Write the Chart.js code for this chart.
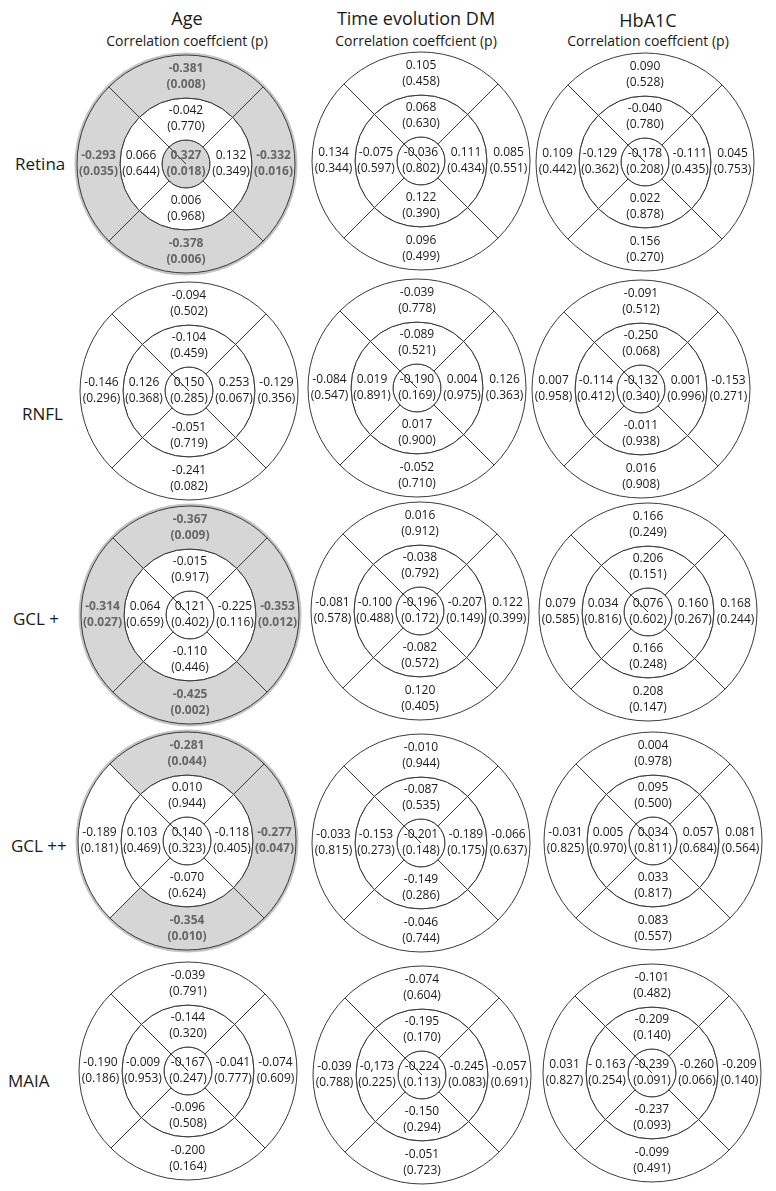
<!DOCTYPE html>
<html>
<head>
<meta charset="utf-8">
<title>ETDRS correlation grids</title>
<script src="https://cdn.jsdelivr.net/npm/chart.js@4.4.1/dist/chart.umd.min.js"></script>
<style>
  html, body {
    margin: 0;
    padding: 0;
    background: #fff;
  }

  #page {
    position: relative;
    width: 776px;
    height: 1191px;
    overflow: hidden;
    font-family: "Open Sans", sans-serif;
    color: #1a1a1a;
  }

  .title {
    position: absolute;
    transform: translate(-50%, -50%);
    font-size: 18px;
    white-space: nowrap;
  }

  .subtitle {
    position: absolute;
    transform: translate(-50%, -50%);
    font-size: 14px;
    white-space: nowrap;
  }

  .rowLabel {
    position: absolute;
    transform: translateY(-50%);
    font-size: 17px;
    white-space: nowrap;
  }

  canvas {
    position: absolute;
  }
</style>
</head>
<body>
<div id="page"></div>

<script>
"use strict";

/**************************************************************
 * Data
 **************************************************************/
const columnTitles = ["Age", "Time evolution DM", "HbA1C"];

const subTitle = "Correlation coeffcient (p)";

const rowLabels = ["Retina", "RNFL", "GCL +", "GCL ++", "MAIA"];

const sectorNames = ["Top", "Right", "Bottom", "Left"];

// each row: centre, inner top/right/bottom/left, outer top/right/bottom/left
const ageCoef = [
  ["0.327", "-0.042", "0.132", "0.006", "0.066", "-0.381", "-0.332", "-0.378", "-0.293"],
  ["0.150", "-0.104", "0.253", "-0.051", "0.126", "-0.094", "-0.129", "-0.241", "-0.146"],
  ["0.121", "-0.015", "-0.225", "-0.110", "0.064", "-0.367", "-0.353", "-0.425", "-0.314"],
  ["0.140", "0.010", "-0.118", "-0.070", "0.103", "-0.281", "-0.277", "-0.354", "-0.189"],
  ["-0.167", "-0.144", "-0.041", "-0.096", "-0.009", "-0.039", "-0.074", "-0.200", "-0.190"],
];

const ageP = [
  [0.018, 0.770, 0.349, 0.968, 0.644, 0.008, 0.016, 0.006, 0.035],
  [0.285, 0.459, 0.067, 0.719, 0.368, 0.502, 0.356, 0.082, 0.296],
  [0.402, 0.917, 0.116, 0.446, 0.659, 0.009, 0.012, 0.002, 0.027],
  [0.323, 0.944, 0.405, 0.624, 0.469, 0.044, 0.047, 0.010, 0.181],
  [0.247, 0.320, 0.777, 0.508, 0.953, 0.791, 0.609, 0.164, 0.186],
];

const evolutionCoef = [
  ["-0.036", "0.068", "0.111", "0.122", "-0.075", "0.105", "0.085", "0.096", "0.134"],
  ["-0.190", "-0.089", "0.004", "0.017", "0.019", "-0.039", "0.126", "-0.052", "-0.084"],
  ["-0.196", "-0.038", "-0.207", "-0.082", "-0.100", "0.016", "0.122", "0.120", "-0.081"],
  ["-0.201", "-0.087", "-0.189", "-0.149", "-0.153", "-0.010", "-0.066", "-0.046", "-0.033"],
  ["-0.224", "-0.195", "-0.245", "-0.150", "-0,173", "-0.074", "-0.057", "-0.051", "-0.039"],
];

const evolutionP = [
  [0.802, 0.630, 0.434, 0.390, 0.597, 0.458, 0.551, 0.499, 0.344],
  [0.169, 0.521, 0.975, 0.900, 0.891, 0.778, 0.363, 0.710, 0.547],
  [0.172, 0.792, 0.149, 0.572, 0.488, 0.912, 0.399, 0.405, 0.578],
  [0.148, 0.535, 0.175, 0.286, 0.273, 0.944, 0.637, 0.744, 0.815],
  [0.113, 0.170, 0.083, 0.294, 0.225, 0.604, 0.691, 0.723, 0.788],
];

const hba1cCoef = [
  ["-0.178", "-0.040", "-0.111", "0.022", "-0.129", "0.090", "0.045", "0.156", "0.109"],
  ["-0.132", "-0.250", "0.001", "-0.011", "-0.114", "-0.091", "-0.153", "0.016", "0.007"],
  ["0.076", "0.206", "0.160", "0.166", "0.034", "0.166", "0.168", "0.208", "0.079"],
  ["0.034", "0.095", "0.057", "0.033", "0.005", "0.004", "0.081", "0.083", "-0.031"],
  ["-0.239", "-0.209", "-0.260", "-0.237", "- 0.163", "-0.101", "-0.209", "-0.099", "0.031"],
];

const hba1cP = [
  [0.208, 0.780, 0.435, 0.878, 0.362, 0.528, 0.753, 0.270, 0.442],
  [0.340, 0.068, 0.996, 0.938, 0.412, 0.512, 0.271, 0.908, 0.958],
  [0.602, 0.151, 0.267, 0.248, 0.816, 0.249, 0.244, 0.147, 0.585],
  [0.811, 0.500, 0.684, 0.817, 0.970, 0.978, 0.564, 0.557, 0.825],
  [0.091, 0.140, 0.066, 0.093, 0.254, 0.482, 0.140, 0.491, 0.827],
];

const coefColumns = [ageCoef, evolutionCoef, hba1cCoef];
const pColumns = [ageP, evolutionP, hba1cP];

/**************************************************************
 * Layout
 **************************************************************/
const gridCentres = [
  [[186, 164], [421, 161], [645, 162]],
  [[189, 391], [417, 388], [641, 389]],
  [[190, 615], [420, 611], [648, 612]],
  [[187, 841], [421, 843], [653, 841]],
  [[188, 1071], [422, 1075], [652, 1073]],
];

const titlePos = [[187, 18], [416, 18], [648, 20]];
const subTitleY = 40;
const rowLabelPos = [[15, 163], [22, 413], [13, 618], [11, 845], [8, 1080]];

const CANVAS_SIZE = 240;
const OUTER_RADIUS = 109;
const SIG_LEVEL = 0.05;
const SHADE = "#d6d6d6";
const LINE = "#3a3a3a";

/**************************************************************
 * Plugins
 **************************************************************/
// soft grey rim round grids that have shaded outer sectors
const shadedRim = {
  id: "shadedRim",

  beforeDatasetsDraw(chart) {
    const outer = chart.data.datasets[0];
    if (!outer.pValues.some((p) => p < SIG_LEVEL)) return;

    const arc = chart.getDatasetMeta(0).data[0];
    const { ctx } = chart;

    ctx.save();
    ctx.strokeStyle = "#c4c4c4";
    ctx.lineWidth = 3;
    ctx.beginPath();
    ctx.arc(arc.x, arc.y, arc.outerRadius + 1, 0, Math.PI * 2);
    ctx.stroke();
    ctx.restore();
  },
};

const sectorText = {
  id: "sectorText",

  afterDatasetsDraw(chart) {
    const { ctx } = chart;

    ctx.save();
    ctx.textAlign = "center";
    ctx.textBaseline = "middle";

    chart.data.datasets.forEach((ds, di) => {
      const meta = chart.getDatasetMeta(di);

      meta.data.forEach((arc, i) => {
        const pos = ds.data.length === 1 ? { x: arc.x, y: arc.y } : arc.tooltipPosition();
        const p = ds.pValues[i];
        const sig = p < SIG_LEVEL;

        ctx.font = (sig ? "bold " : "") + "12px 'Open Sans'";
        ctx.fillStyle = sig ? "#666" : "#1a1a1a";
        ctx.fillText(ds.coefs[i], pos.x, pos.y - 8);
        ctx.fillText("(" + p.toFixed(3) + ")", pos.x, pos.y + 8);
      });
    });

    ctx.restore();
  },
};

/**************************************************************
 * Build
 **************************************************************/
const page = document.getElementById("page");

function addText(cls, text, x, y) {
  const el = document.createElement("div");
  el.className = cls;
  el.textContent = text;
  el.style.left = x + "px";
  el.style.top = y + "px";
  page.appendChild(el);
}

function ringDataset(coefs, pValues, weight) {
  return {
    data: coefs.map(() => 1),
    coefs: coefs,
    pValues: pValues,
    weight: weight,
    backgroundColor: pValues.map((p) => (p < SIG_LEVEL ? SHADE : "#fff")),
    borderColor: LINE,
    borderWidth: 1,
    hoverOffset: 0,
    offset: 0,
  };
}

function buildGrid(row, col) {
  const coefs = coefColumns[col][row];
  const pValues = pColumns[col][row];
  const [cx, cy] = gridCentres[row][col];

  const canvas = document.createElement("canvas");
  canvas.width = CANVAS_SIZE;
  canvas.height = CANVAS_SIZE;
  canvas.style.left = cx - CANVAS_SIZE / 2 + "px";
  canvas.style.top = cy - CANVAS_SIZE / 2 + "px";
  page.appendChild(canvas);

  new Chart(canvas.getContext("2d"), {
    type: "doughnut",
    data: {
      labels: sectorNames,
      datasets: [
        ringDataset(coefs.slice(5, 9), pValues.slice(5, 9), 43),
        ringDataset(coefs.slice(1, 5), pValues.slice(1, 5), 42),
        ringDataset(coefs.slice(0, 1), pValues.slice(0, 1), 24),
      ],
    },
    options: {
      responsive: false,
      animation: false,
      events: [],
      rotation: -45,
      cutout: 0,
      radius: OUTER_RADIUS,
      layout: { padding: 0 },
      plugins: {
        legend: { display: false },
        tooltip: { enabled: false },
      },
    },
    plugins: [shadedRim, sectorText],
  });
}

columnTitles.forEach((t, c) => {
  addText("title", t, titlePos[c][0], titlePos[c][1]);
  addText("subtitle", subTitle, titlePos[c][0], subTitleY);
});

rowLabels.forEach((t, r) => {
  addText("rowLabel", t, rowLabelPos[r][0], rowLabelPos[r][1]);
});

for (let r = 0; r < rowLabels.length; r++) {
  for (let c = 0; c < columnTitles.length; c++) {
    buildGrid(r, c);
  }
}
</script>
</body>
</html>
